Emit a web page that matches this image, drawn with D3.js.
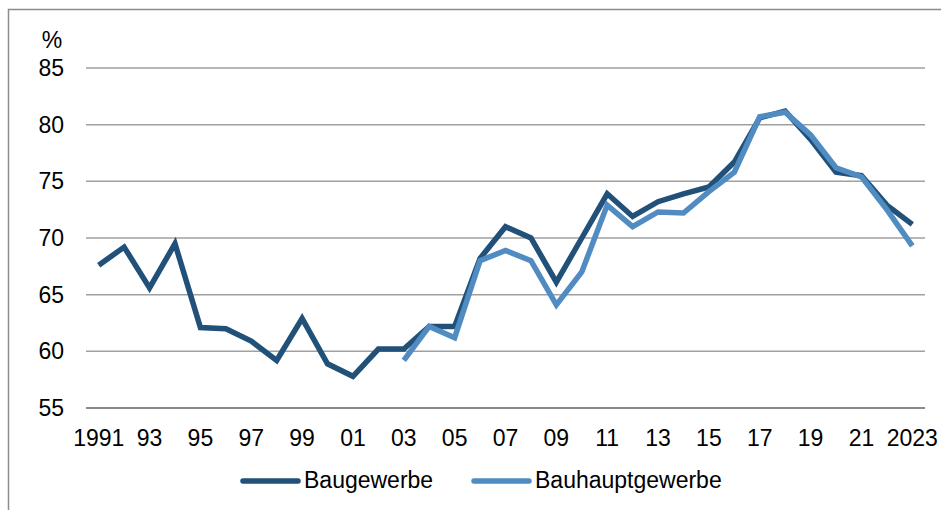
<!DOCTYPE html>
<html>
<head>
<meta charset="utf-8">
<script src="https://cdn.jsdelivr.net/npm/d3@7"></script>
<style>
  body { margin: 0; background: #fff; }
  text { font-family: "Liberation Sans", Arial, sans-serif; fill: #000; }
</style>
</head>
<body>
<script>
var svgWidth = 941;
var svgHeight = 510;

var years = d3.range(1991, 2024);
var tickLabels = ["1991", "93", "95", "97", "99", "01", "03", "05", "07", "09", "11", "13", "15", "17", "19", "21", "2023"];
var yTicks = [55, 60, 65, 70, 75, 80, 85];
var seriesNames = ["Baugewerbe", "Bauhauptgewerbe"];
var seriesColors = ["#215079", "#508cc2"];

// Baugewerbe 1991-2023
var baugewerbe = [67.6, 69.2, 65.6, 69.5, 62.1, 62.0, 60.9, 59.2, 62.9, 58.9,
    57.8, 60.2, 60.2, 62.2, 62.2, 68.2, 71.0, 70.0, 66.1, 70.0,
    73.9, 71.9, 73.2, 73.9, 74.5, 76.7, 80.6, 81.2, 78.7, 75.8,
    75.5, 72.9, 71.2];
// Bauhauptgewerbe 2003-2023
var bauhaupt = [null, null, null, null, null, null, null, null, null, null,
    null, null, 59.2, 62.2, 61.2, 68.0, 68.9, 68.0, 64.1, 67.0,
    72.9, 71.0, 72.3, 72.2, 74.1, 75.8, 80.7, 81.1, 79.1, 76.2,
    75.4, 72.5, 69.3];

var plotLeft = 86, plotRight = 925, plotTop = 68, plotBottom = 408;

var x = d3.scalePoint()
    .domain(years)
    .range([plotLeft, plotRight])
    .padding(0.5);

var y = d3.scaleLinear()
    .domain([55, 85])
    .range([plotBottom, plotTop]);

var svg = d3.select("body")
    .append("svg")
    .attr("width", svgWidth)
    .attr("height", svgHeight);

// outer frame
svg.append("rect")
    .attr("x", 8.5)
    .attr("y", 9.5)
    .attr("width", svgWidth)
    .attr("height", svgHeight)
    .attr("fill", "none")
    .attr("stroke", "#8c8c8c")
    .attr("stroke-width", 1.5);

// gridlines
svg.selectAll(".grid")
    .data(yTicks).enter()
    .append("line")
    .attr("x1", plotLeft)
    .attr("x2", plotRight)
    .attr("y1", d => y(d))
    .attr("y2", d => y(d))
    .attr("stroke", d => d === 55 ? "#8a8a8a" : "#a0a0a0")
    .attr("stroke-width", d => d === 55 ? 2 : 1.5);

// y labels
svg.selectAll(".ylab")
    .data(yTicks).enter()
    .append("text")
    .attr("x", 64)
    .attr("y", d => y(d))
    .attr("dy", "0.35em")
    .attr("text-anchor", "end")
    .style("font-size", "23px")
    .text(d => d);

svg.append("text")
    .attr("x", 52)
    .attr("y", 48)
    .attr("text-anchor", "middle")
    .style("font-size", "23px")
    .text("%");

// x labels
var labelYears = years.filter((d, i) => i % 2 === 0);
svg.selectAll(".xlab")
    .data(labelYears).enter()
    .append("text")
    .attr("x", d => x(d))
    .attr("y", 446)
    .attr("text-anchor", "middle")
    .style("font-size", "23px")
    .text((d, i) => tickLabels[i]);

// lines
var line = d3.line()
    .defined(d => d.v !== null)
    .x(d => x(d.year))
    .y(d => y(d.v));

[baugewerbe, bauhaupt].forEach((vals, s) => {
    svg.append("path")
        .datum(years.map((yr, i) => ({ year: yr, v: vals[i] })))
        .attr("d", line)
        .attr("fill", "none")
        .attr("stroke", seriesColors[s])
        .attr("stroke-width", 5.5)
        .attr("stroke-linejoin", "miter")
        .attr("stroke-linecap", "butt");
});

// legend
var legendX = [243, 474];
seriesNames.forEach((name, s) => {
    svg.append("line")
        .attr("x1", legendX[s])
        .attr("x2", legendX[s] + 55)
        .attr("y1", 481)
        .attr("y2", 481)
        .attr("stroke", seriesColors[s])
        .attr("stroke-width", 5.5)
        .attr("stroke-linecap", "round");
    svg.append("text")
        .attr("x", legendX[s] + 61)
        .attr("y", 488)
        .style("font-size", "23px")
        .text(name);
});
</script>
</body>
</html>
